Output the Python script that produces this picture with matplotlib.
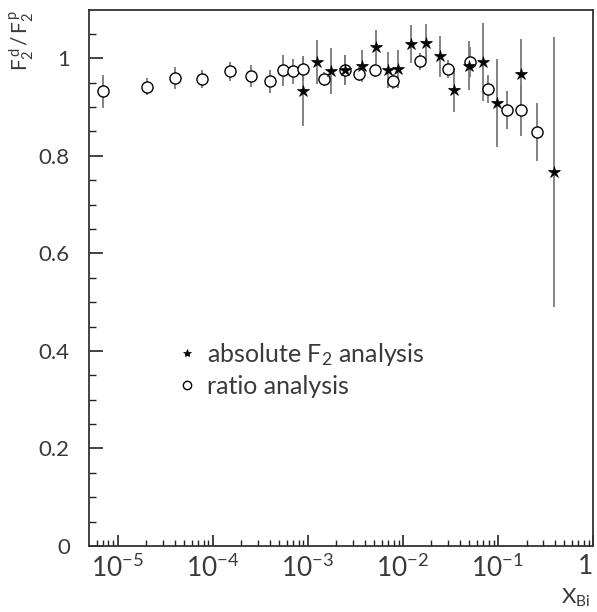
import matplotlib
matplotlib.use("Agg")
import matplotlib.pyplot as plt
from matplotlib.ticker import FixedLocator, LogLocator, MultipleLocator, NullFormatter

plt.rcParams['font.family'] = ['Lato', 'DejaVu Sans']
plt.rcParams['mathtext.fontset'] = 'custom'
plt.rcParams['mathtext.rm'] = 'Lato'
plt.rcParams['mathtext.it'] = 'Lato'

# ratio analysis (open circles)
x_ratio = [6.94e-6, 2.02e-5, 4.02e-5, 7.67e-5, 1.51e-4, 2.53e-4, 3.98e-4, 5.50e-4,
           6.95e-4, 8.98e-4, 1.49e-3, 2.47e-3, 3.48e-3, 5.09e-3, 7.94e-3, 1.51e-2,
           3.01e-2, 5.04e-2, 7.92e-2, 0.124, 0.175, 0.256]
y_ratio = [0.932, 0.942, 0.959, 0.958, 0.973, 0.964, 0.953, 0.975, 0.973, 0.979, 0.957,
           0.976, 0.968, 0.975, 0.953, 0.994, 0.978, 0.992, 0.937, 0.893, 0.893, 0.849]
e_ratio = [0.033, 0.018, 0.023, 0.018, 0.019, 0.023, 0.024, 0.032, 0.025, 0.025, 0.014,
           0.031, 0.015, 0.014, 0.015, 0.017, 0.018, 0.031, 0.029, 0.039, 0.053, 0.059]

# absolute F2 analysis (stars)
x_abs = [8.98e-4, 1.25e-3, 1.74e-3, 2.47e-3, 3.69e-3, 5.19e-3, 6.94e-3, 8.96e-3,
         1.23e-2, 1.75e-2, 2.46e-2, 3.45e-2, 4.97e-2, 6.97e-2, 9.77e-2, 0.175, 0.389]
y_abs = [0.932, 0.992, 0.974, 0.976, 0.984, 1.024, 0.976, 0.979, 1.029, 1.032, 1.004,
         0.935, 0.985, 0.993, 0.909, 0.968, 0.767]
e_abs = [0.070, 0.045, 0.048, 0.031, 0.033, 0.035, 0.036, 0.039, 0.039, 0.038, 0.042,
         0.046, 0.051, 0.080, 0.090, 0.072, 0.277]

x_ticks = [1e-5, 1e-4, 1e-3, 1e-2, 1e-1, 1]
x_ticklabels = [r'$\mathregular{10^{-5}}$', r'$\mathregular{10^{-4}}$', r'$\mathregular{10^{-3}}$',
                r'$\mathregular{10^{-2}}$', r'$\mathregular{10^{-1}}$', '1']
y_ticks = [0, 0.2, 0.4, 0.6, 0.8, 1]
y_ticklabels = ['0', '0.2', '0.4', '0.6', '0.8', '1']

fig = plt.figure(figsize=(5.97, 6.12), dpi=100)
ax = fig.add_axes([89.3 / 597, 1 - 546 / 612, (593 - 89.3) / 597, (546 - 10) / 612])

ecol = '#7a7a7a'
tcol = '#3a3a3a'
ax.errorbar(x_abs, y_abs, yerr=e_abs, fmt='none', ecolor=ecol, elinewidth=1.3, capsize=0, zorder=2)
ax.errorbar(x_ratio, y_ratio, yerr=e_ratio, fmt='none', ecolor=ecol, elinewidth=1.3, capsize=0, zorder=2)
ax.plot(x_ratio, y_ratio, 'o', ms=8, mfc='white', mec='black', mew=1.0, ls='none', zorder=3,
        label='ratio analysis')
ax.plot(x_abs, y_abs, '*', ms=9, mfc='black', mec='black', mew=0.5, ls='none', zorder=4,
        label=r'absolute $\mathregular{F_2}$ analysis')

ax.set_xscale('log')
ax.set_xlim(5.03e-6, 1)
ax.set_ylim(0, 1.099)

ax.xaxis.set_major_locator(FixedLocator(x_ticks))
ax.set_xticklabels(x_ticklabels, fontsize=19)
ax.xaxis.set_minor_locator(LogLocator(base=10, subs=range(2, 10), numticks=20))
ax.xaxis.set_minor_formatter(NullFormatter())
ax.set_yticks(y_ticks)
ax.set_yticklabels(y_ticklabels, fontsize=16)
ax.yaxis.set_minor_locator(MultipleLocator(0.05))

ax.tick_params(which='both', direction='in', top=False, right=False, colors='#222222')
ax.tick_params(axis='x', which='major', length=8, width=1.2, pad=6)
ax.tick_params(axis='x', which='minor', length=4, width=1.0)
ax.tick_params(axis='y', which='major', length=10, width=1.2, pad=14)
ax.tick_params(axis='y', which='minor', length=5, width=1.0)
for lbl in ax.get_xticklabels() + ax.get_yticklabels():
    lbl.set_color(tcol)
xt = ax.get_xticklabels()
xt[-1].set_horizontalalignment('right')
for s in ax.spines.values():
    s.set_linewidth(1.3)
    s.set_color('#333333')

ax.set_ylabel(r'$\mathregular{F_2^{\,d}\,/\,F_2^{\,p}}$', fontsize=15, color=tcol, loc='top')
ax.yaxis.set_label_coords(-0.105, 1.0)
ax.set_xlabel(r'$\mathregular{X_{Bi}}$', fontsize=16, color=tcol, loc='right')
ax.xaxis.set_label_coords(0.995, -0.076)

handles, labels = ax.get_legend_handles_labels()
leg = ax.legend(handles[::-1], labels[::-1], loc='upper left', bbox_to_anchor=(0.125, 0.425),
                frameon=False, fontsize=18, handletextpad=0.3, handlelength=1.0,
                labelspacing=0.3, labelcolor=tcol)
for h in leg.legend_handles:
    h.set_markersize(6)

fig.savefig('out.png', dpi=100)
